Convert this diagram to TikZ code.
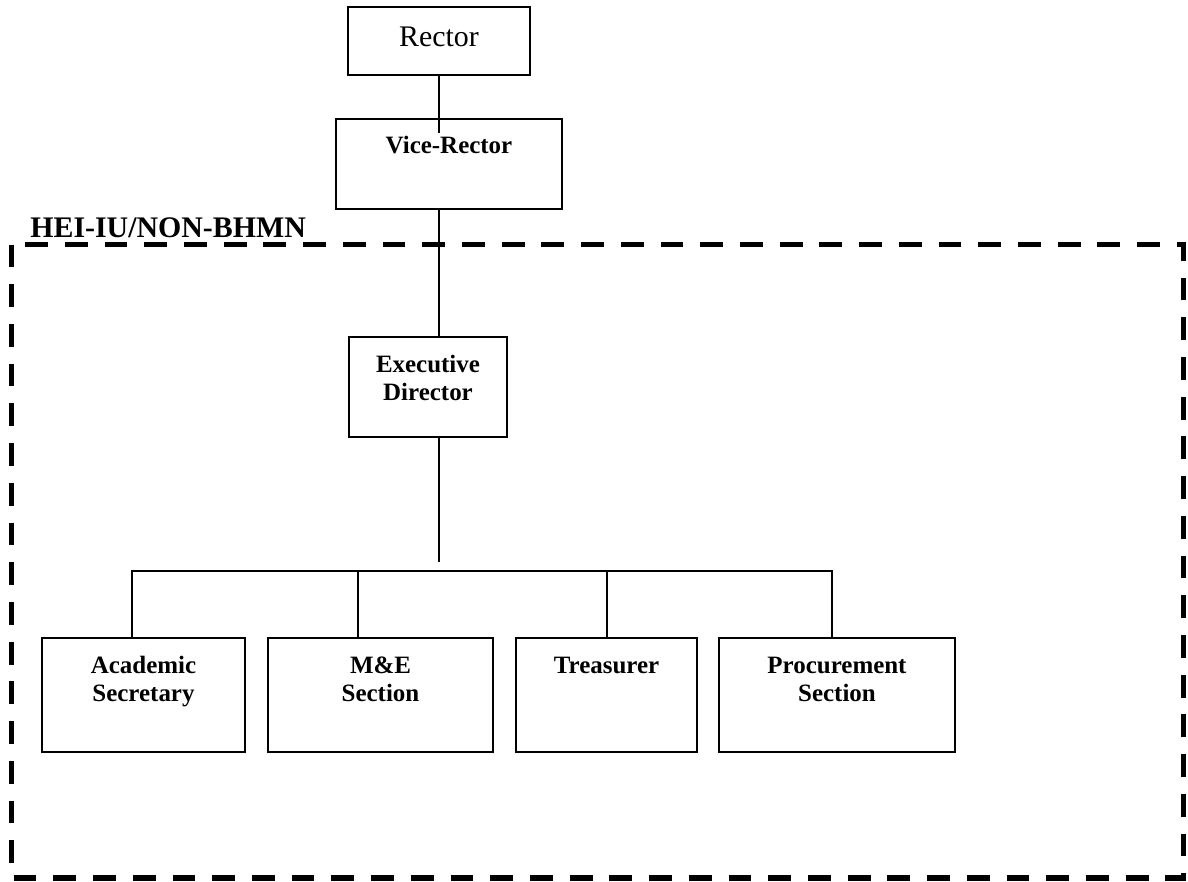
\documentclass[tikz,border=0pt]{standalone}
\usepackage{fontspec}
\setmainfont{Liberation Serif}
\usetikzlibrary{positioning}

\begin{document}
\begin{tikzpicture}[
        block/.style={draw, line width=1.1pt, inner xsep=0pt, inner ysep=0pt, align=center, font=\fontsize{14.2}{15.9}\selectfont\bfseries, minimum width=#1},
        link/.style={line width=1.1pt},
        frame/.style={line width=2.9pt, dash pattern=on 13pt off 9.6pt, line join=miter}
    ]
        \useasboundingbox (0,0) rectangle (23.76,-17.64);

        % Rector
        \node[block=3.64cm, font=\fontsize{17}{16}\selectfont, text height=0.8cm, text depth=0.56cm] (rector) at (8.78,-0.82) {Rector};

        % Vice-Rector
        \node[block=4.52cm, text height=0.68cm, text depth=1.12cm] (vice) at (8.98,-3.28) {Vice-Rector};

        % Unit boundary
        \draw[frame] (0.234,-4.89) rectangle (23.67,-17.56);
        \node[anchor=base west, inner sep=0pt, font=\fontsize{17}{16}\selectfont\bfseries] (hei) at (0.6,-4.74) {HEI-IU/NON-BHMN};

        % Executive Director
        \node[block=3.16cm, text height=1.26cm, text depth=0.74cm] (ed) at (8.56,-7.74) {Executive\\Director};

        % Sections
        \node[block=4.06cm, text height=1.26cm, text depth=1.02cm] (acad) at (2.87,-13.9) {Academic\\Secretary};
        \node[block=4.5cm, text height=1.26cm, text depth=1.02cm] (me) at (7.61,-13.9) {M\&E\\Section};
        \node[block=3.62cm, text height=0.7cm, text depth=1.58cm] (treas) at (12.13,-13.9) {Treasurer};
        \node[block=4.72cm, text height=1.26cm, text depth=1.02cm] (proc) at (16.74,-13.9) {Procurement\\Section};

        % Lines
        \coordinate (vtip) at (8.78,-2.66);
        \coordinate (edend) at (8.78,-11.24);
        \draw[link] (rector.south) -- (vtip);
        \draw[link] (rector.south |- vice.south) -- (rector.south |- ed.north);
        \draw[link] (rector.south |- ed.south) -- (edend);

        % Bus
        \coordinate (b1) at (2.64,-11.42);
        \coordinate (b2) at (7.16,-11.42);
        \coordinate (b3) at (12.14,-11.42);
        \coordinate (b4) at (16.64,-11.42);
        \draw[link] (b1 |- acad.north) -- (b1) -- (b4) -- (b4 |- proc.north);
        \foreach \b/\n in {b2/me, b3/treas} {
            \draw[link] (\b) -- (\b |- \n.north);
        }

    \end{tikzpicture}
\end{document}
